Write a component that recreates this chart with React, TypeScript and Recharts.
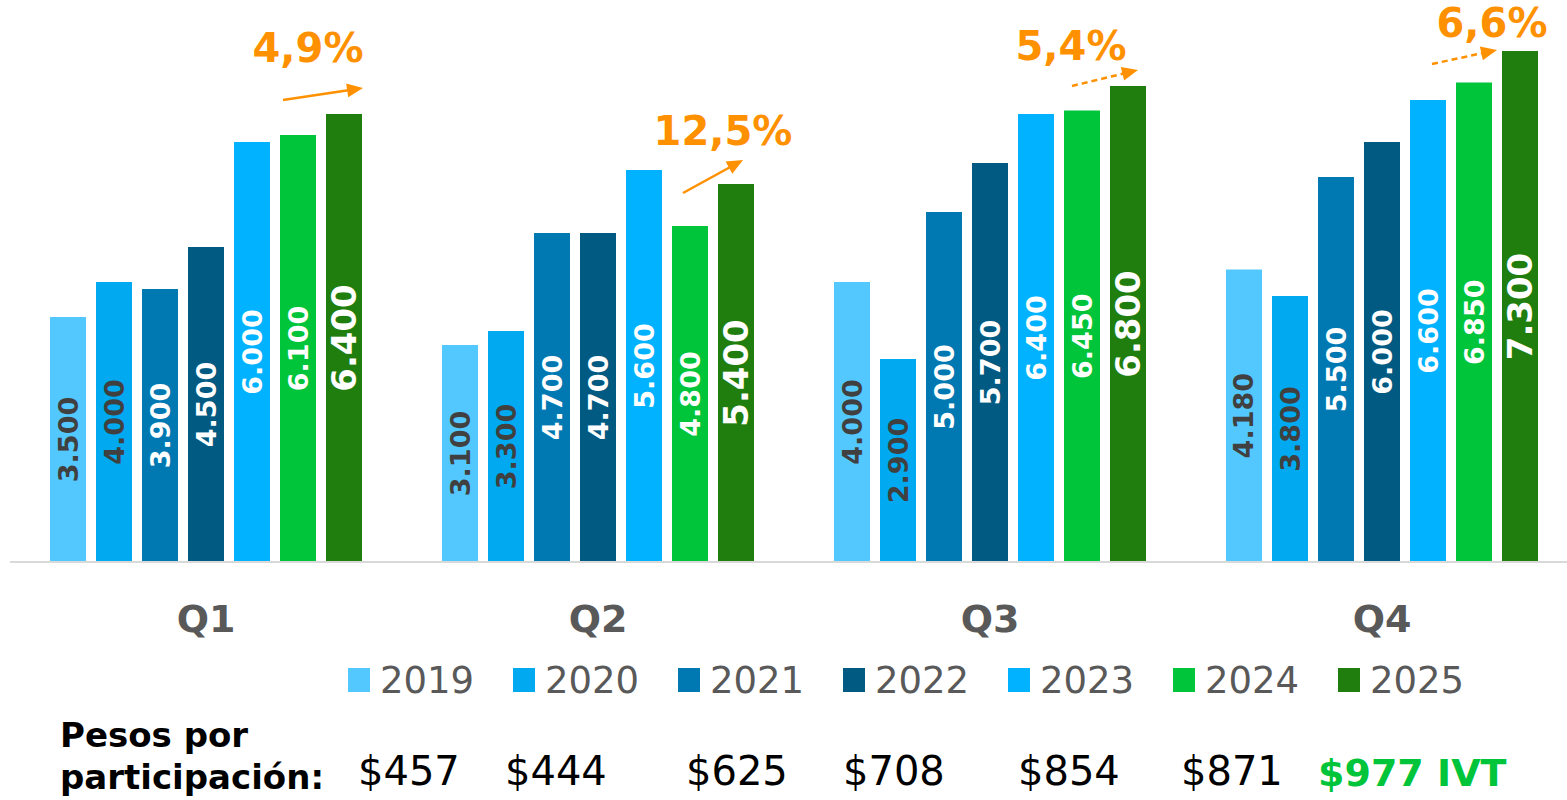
import React from 'react';
import { BarChart, Bar, XAxis, YAxis, LabelList, Legend } from 'recharts';

// ---------- data ----------
const quarters = ['Q1', 'Q2', 'Q3', 'Q4'];
const years = ['2019', '2020', '2021', '2022', '2023', '2024', '2025'];
const v2019 = [3500, 3100, 4000, 4180];
const v2020 = [4000, 3300, 2900, 3800];
const v2021 = [3900, 4700, 5000, 5500];
const v2022 = [4500, 4700, 5700, 6000];
const v2023 = [6000, 5600, 6400, 6600];
const v2024 = [6100, 4800, 6450, 6850];
const v2025 = [6400, 5400, 6800, 7300];
const growth = ['4,9%', '12,5%', '5,4%', '6,6%'];
const growthDashed = [false, false, true, true];
const pesosTitle = ['Pesos por', 'participación:'];
const pesos = ['$457', '$444', '$625', '$708', '$854', '$871', '$977 IVT'];

const seriesValues = [v2019, v2020, v2021, v2022, v2023, v2024, v2025];

// ---------- styles ----------
const FONT = '"DejaVu Sans", "Open Sans", sans-serif';
const barColors = ['#53C8FF', '#00A9F0', '#0079B3', '#005A82', '#00B2FF', '#00C43A', '#1F7E0E'];
const labelColors = ['#404040', '#404040', '#FFFFFF', '#FFFFFF', '#FFFFFF', '#FFFFFF', '#FFFFFF'];
const labelSizes = [27, 27, 27, 27, 27, 27, 34];
const ORANGE = '#FF9100';
// annotation placement relative to the top-left corner of each 2025 bar
const growthLayout = [
  { tx: -18, ty: -52, ax1: -43, ay1: -14, ax2: 37, ay2: -26 },
  { tx: 5, ty: -39, ax1: -35, ay1: 9, ax2: 25, ay2: -24 },
  { tx: -39, ty: -26, ax1: -38, ay1: 0, ax2: 28, ay2: -16 },
  { tx: -10, ty: -14, ax1: -70, ay1: 13, ax2: -5, ay2: -1 },
];
const pesosNudge = [10, -8, 8, 0, 10, 8, -20];

const data = quarters.map((q, i) => {
  const row: any = { quarter: q };
  years.forEach((y, j) => {
    row['y' + y] = seriesValues[j][i];
  });
  return row;
});

const fmt = (v: number) => `${Math.floor(v / 1000)}.${String(v % 1000).padStart(3, '0')}`;

const geom = (props: any) => {
  const vb = props.viewBox || {};
  const x = Number(props.x ?? vb.x);
  const y = Number(props.y ?? vb.y);
  const width = Number(props.width ?? vb.width);
  const height = Number(props.height ?? vb.height);
  return { x, y, width, height };
};

const makeValueLabel = (j: number) => (props: any) => {
  const { x, y, width, height } = geom(props);
  if (!isFinite(x) || !isFinite(y)) return null;
  const cx = x + width / 2;
  const cy = y + height / 2;
  return (
    <text
      x={cx}
      y={cy}
      transform={`rotate(-90 ${cx} ${cy})`}
      textAnchor="middle"
      dominantBaseline="central"
      fill={labelColors[j]}
      fontSize={labelSizes[j]}
      fontWeight={700}
      fontFamily={FONT}
    >
      {fmt(Number(props.value))}
    </text>
  );
};

const Arrow = ({ x1, y1, x2, y2, dashed }: any) => {
  const ang = Math.atan2(y2 - y1, x2 - x1);
  const L = 16;
  const W = 7;
  const c = Math.cos(ang);
  const s = Math.sin(ang);
  const bx = x2 - L * c;
  const by = y2 - L * s;
  return (
    <g>
      <line
        x1={x1}
        y1={y1}
        x2={bx + 1 * c}
        y2={by + 1 * s}
        stroke={ORANGE}
        strokeWidth={2.5}
        strokeDasharray={dashed ? '6 4' : undefined}
      />
      <polygon
        points={`${x2},${y2} ${bx + W * s},${by - W * c} ${bx - W * s},${by + W * c}`}
        fill={ORANGE}
      />
    </g>
  );
};

const renderGrowth = (props: any) => {
  const { x, y } = geom(props);
  if (!isFinite(x) || !isFinite(y)) return null;
  let idx = typeof props.index === 'number' ? props.index : -1;
  if (idx < 0 || idx >= quarters.length) idx = v2025.indexOf(Number(props.value));
  if (idx < 0) return null;
  const g = growthLayout[idx];
  return (
    <g>
      <Arrow x1={x + g.ax1} y1={y + g.ay1} x2={x + g.ax2} y2={y + g.ay2} dashed={growthDashed[idx]} />
      <text
        x={x + g.tx}
        y={y + g.ty}
        textAnchor="middle"
        fill={ORANGE}
        fontSize={40}
        fontWeight={700}
        fontFamily={FONT}
      >
        {growth[idx]}
      </text>
    </g>
  );
};

const renderTick = (props: any) => (
  <text
    x={props.x}
    y={props.y}
    dy={70}
    textAnchor="middle"
    fill="#595959"
    fontSize={38}
    fontWeight={700}
    fontFamily={FONT}
  >
    {props.payload.value}
  </text>
);

const COL0 = 348;
const COLW = 165;

const renderLegend = (props: any) => {
  const payload = (props.payload || []) as any[];
  return (
    <div style={{ position: 'relative', width: 1578, height: 150, fontFamily: FONT }}>
      {payload.map((p: any, i: number) => (
        <div
          key={'lg' + i}
          style={{
            position: 'absolute',
            left: COL0 + i * COLW,
            top: 0,
            height: 60,
            display: 'flex',
            alignItems: 'center',
          }}
        >
          <span style={{ display: 'inline-block', width: 22, height: 24, background: p.color, marginRight: 10 }} />
          <span style={{ fontSize: 37, color: '#595959', whiteSpace: 'nowrap' }}>{p.value}</span>
        </div>
      ))}
      <div
        style={{
          position: 'absolute',
          left: 60,
          top: 64,
          fontSize: 34,
          lineHeight: '42px',
          fontWeight: 700,
          color: '#000',
        }}
      >
        {pesosTitle.map((t, i) => (
          <div key={'pt' + i} style={{ whiteSpace: 'nowrap' }}>{t}</div>
        ))}
      </div>
      {pesos.map((t, i) => {
        const last = i === pesos.length - 1;
        return (
          <div
            key={'ps' + i}
            style={{
              position: 'absolute',
              left: COL0 + i * COLW + pesosNudge[i],
              top: last ? 103 : 101,
              fontSize: last ? 38 : 40,
              lineHeight: '40px',
              fontWeight: last ? 700 : 400,
              color: last ? '#00C43A' : '#000',
              whiteSpace: 'nowrap',
            }}
          >
            {t}
          </div>
        );
      })}
    </div>
  );
};

export default function App() {
  return (
    <div
      style={{
        position: 'absolute',
        left: 0,
        top: 0,
        width: 1567,
        height: 800,
        overflow: 'hidden',
        background: '#FFFFFF',
      }}
    >
      <BarChart
        width={1578}
        height={800}
        data={data}
        margin={{ top: 2, right: 0, bottom: 158, left: 10 }}
        barGap={10}
        barSize={36}
      >
        <XAxis
          dataKey="quarter"
          height={80}
          tickLine={false}
          tickSize={0}
          tickMargin={0}
          axisLine={{ stroke: '#D9D9D9', strokeWidth: 2 }}
          tick={renderTick}
          interval={0}
        />
        <YAxis hide domain={[0, 8000]} />
        <Legend
          layout="horizontal"
          verticalAlign="middle"
          align="center"
          content={renderLegend}
          wrapperStyle={{ left: 0, top: 650, width: 1578, height: 150 }}
        />
        {years.map((y, j) => (
          <Bar
            key={y}
            dataKey={'y' + y}
            name={y}
            fill={barColors[j]}
            isAnimationActive={false}
          >
            <LabelList dataKey={'y' + y} content={makeValueLabel(j)} />
            {j === years.length - 1 ? <LabelList dataKey={'y' + y} content={renderGrowth} /> : null}
          </Bar>
        ))}
      </BarChart>
    </div>
  );
}
